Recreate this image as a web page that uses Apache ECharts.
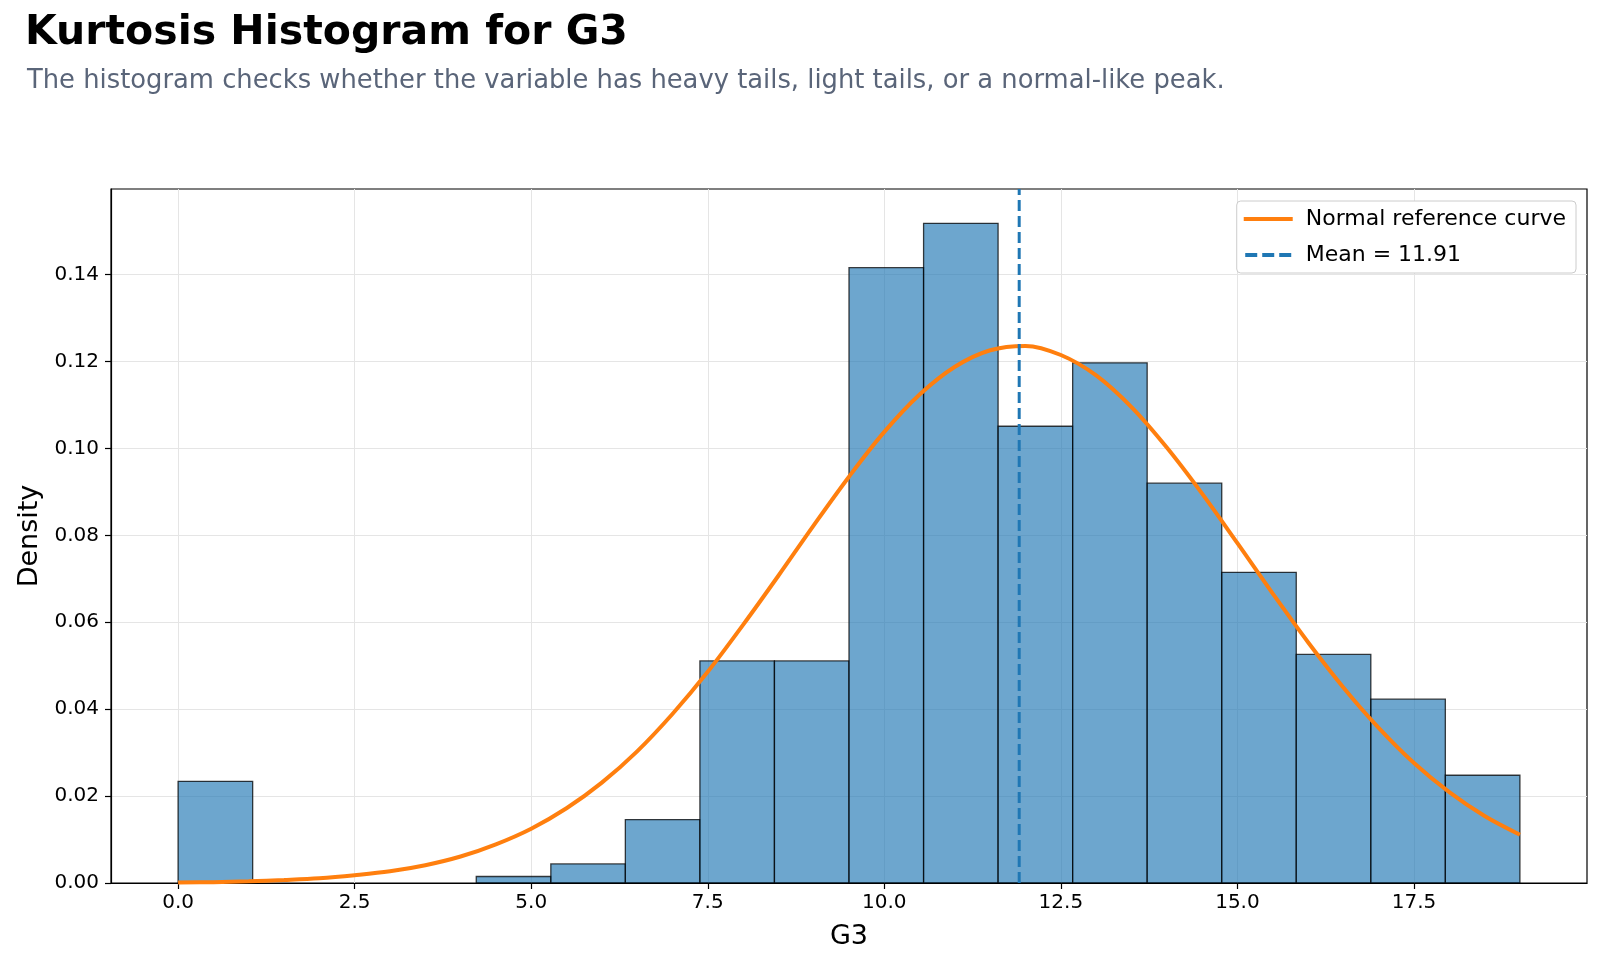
<!DOCTYPE html>
<html>
<head>
<meta charset="utf-8">
<title>Kurtosis Histogram for G3</title>
<script src="https://cdn.jsdelivr.net/npm/echarts@6/dist/echarts.min.js"></script>
<style>
  html, body { margin: 0; padding: 0; background: #fff; }
  #chart { width: 1600px; height: 967px; }
</style>
</head>
<body>
<div id="chart"></div>
<script>
// histogram bins (18 bins over 0..19)
var binEdges = [0, 1.056, 2.111, 3.167, 4.222, 5.278, 6.333, 7.389, 8.444, 9.5,
                10.556, 11.611, 12.667, 13.722, 14.778, 15.833, 16.889, 17.944, 19];
var density = [0.0234, 0, 0, 0, 0.0015, 0.0044, 0.0146, 0.0511, 0.0511,
               0.1416, 0.1518, 0.1051, 0.1197, 0.0920, 0.0715, 0.0526, 0.0423, 0.0248];

// normal reference curve
var curveX = [0, 0.5, 1, 1.5, 2, 2.5, 3, 3.5, 4, 4.5, 5, 5.5, 6, 6.5, 7, 7.5, 8, 8.5, 9, 9.5,
              10, 10.5, 11, 11.5, 12, 12.5, 13, 13.5, 14, 14.5, 15, 15.5, 16, 16.5, 17, 17.5, 18, 18.5, 19];
var curveY = [0.0001, 0.0002, 0.0004, 0.0007, 0.0011, 0.0018, 0.0027, 0.0041, 0.0061, 0.0089,
              0.0125, 0.0172, 0.0231, 0.0303, 0.0389, 0.0486, 0.0594, 0.0707, 0.0823, 0.0935,
              0.1038, 0.1124, 0.1188, 0.1226, 0.1236, 0.1215, 0.1168, 0.1095, 0.1002, 0.0896,
              0.0782, 0.0666, 0.0554, 0.0450, 0.0357, 0.0276, 0.0209, 0.0154, 0.0111];

var meanValue = 11.91;

// axis ticks
var xTicks = [0, 2.5, 5, 7.5, 10, 12.5, 15, 17.5];
var yTicks = [0, 0.02, 0.04, 0.06, 0.08, 0.10, 0.12, 0.14];
var xMin = -0.95, xMax = 19.95;
var yMin = 0, yMax = 0.1597;

var font = "'DejaVu Sans', sans-serif";

var histData = [];
for (var i = 0; i < density.length; i++) {
    histData.push([binEdges[i], binEdges[i + 1], density[i]]);
}
var curveData = [];
for (var j = 0; j < curveX.length; j++) {
    curveData.push([curveX[j], curveY[j]]);
}

var chart = echarts.init(document.getElementById('chart'), null, { renderer: 'canvas' });

var option = {
    backgroundColor: '#ffffff',
    animation: false,
    title: [
        {
            text: 'Kurtosis Histogram for G3',
            left: 20, top: 8,
            textStyle: { fontFamily: font, fontSize: 41, fontWeight: 'bold', color: '#000' }
        },
        {
            text: 'The histogram checks whether the variable has heavy tails, light tails, or a normal-like peak.',
            left: 22, top: 63,
            textStyle: { fontFamily: font, fontSize: 25.8, fontWeight: 'normal', color: '#5a6579' }
        }
    ],
    legend: {
        orient: 'vertical',
        right: 24, top: 201,
        padding: [7, 10, 7, 7],
        itemWidth: 49, itemHeight: 4, itemGap: 14,
        backgroundColor: '#ffffff',
        borderColor: '#cccccc', borderWidth: 1, borderRadius: 4,
        textStyle: { fontFamily: font, fontSize: 22, color: '#000', padding: [0, 0, 0, 8] },
        data: [
            { name: 'Normal reference curve', icon: 'rect' },
            { name: 'Mean = 11.91', icon: 'path://M0,0h12v4h-12z M17,0h12v4h-12z M34,0h12v4h-12z' }
        ]
    },
    grid: {
        left: 111, right: 13, top: 189, bottom: 84,
        show: true, borderColor: '#000', borderWidth: 1.2, backgroundColor: 'transparent'
    },
    xAxis: {
        type: 'value',
        min: xMin, max: xMax,
        name: 'G3', nameLocation: 'middle', nameGap: 40,
        nameTextStyle: { fontFamily: font, fontSize: 27, color: '#000' },
        axisLine: { show: true, onZero: false, lineStyle: { color: '#000', width: 1.2 } },
        axisTick: { show: true, inside: false, length: 6, customValues: xTicks, lineStyle: { color: '#000', width: 1.2 } },
        axisLabel: {
            customValues: xTicks, margin: 10,
            fontFamily: font, fontSize: 20, color: '#000',
            formatter: function (v) { return v.toFixed(1); }
        },
        splitLine: { show: true, lineStyle: { color: '#e5e5e5', width: 1 } }
    },
    yAxis: {
        type: 'value',
        min: yMin, max: yMax,
        name: 'Density', nameLocation: 'middle', nameGap: 66,
        nameTextStyle: { fontFamily: font, fontSize: 27, color: '#000' },
        axisLine: { show: true, onZero: false, lineStyle: { color: '#000', width: 1.2 } },
        axisTick: { show: true, inside: false, length: 6, customValues: yTicks, lineStyle: { color: '#000', width: 1.2 } },
        axisLabel: {
            customValues: yTicks, margin: 12,
            fontFamily: font, fontSize: 20, color: '#000',
            formatter: function (v) { return v.toFixed(2); }
        },
        splitLine: { show: true, lineStyle: { color: '#e5e5e5', width: 1 } }
    },
    series: [
        {
            name: 'Histogram',
            type: 'custom',
            z: 2,
            encode: { x: [0, 1], y: 2 },
            data: histData,
            renderItem: function (params, api) {
                var h = api.value(2);
                if (!h) return null;
                var p0 = api.coord([api.value(0), h]);
                var p1 = api.coord([api.value(1), 0]);
                return {
                    type: 'rect',
                    shape: { x: p0[0], y: p0[1], width: p1[0] - p0[0], height: p1[1] - p0[1] },
                    style: { fill: 'rgba(31,119,180,0.65)', stroke: 'rgba(0,0,0,0.75)', lineWidth: 1.3 }
                };
            }
        },
        {
            name: 'Normal reference curve',
            type: 'line',
            z: 4,
            data: curveData,
            smooth: 0.35,
            symbol: 'none',
            lineStyle: { color: '#ff7f0e', width: 4 },
            itemStyle: { color: '#ff7f0e' }
        },
        {
            name: 'Mean = 11.91',
            type: 'line',
            z: 5,
            data: [[meanValue, yMin], [meanValue, yMax]],
            symbol: 'none',
            lineStyle: { color: '#1f77b4', width: 3, type: [11, 5] },
            itemStyle: { color: '#1f77b4' }
        }
    ]
};

chart.setOption(option);
</script>
</body>
</html>
